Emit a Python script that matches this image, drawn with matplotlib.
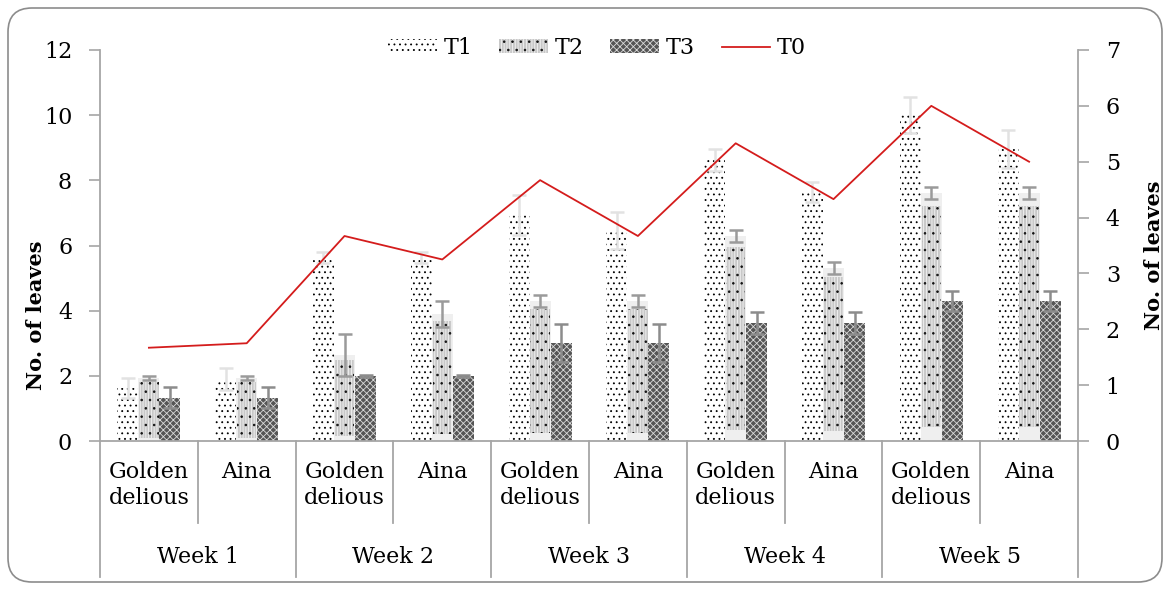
import numpy as np
import matplotlib
matplotlib.use("Agg")
import matplotlib.pyplot as plt
from matplotlib.patches import Patch, FancyBboxPatch
from matplotlib.lines import Line2D
from matplotlib.legend_handler import HandlerTuple
import matplotlib.transforms as mtransforms

plt.rcParams['font.family'] = ['DejaVu Serif']
plt.rcParams['hatch.linewidth'] = 0.6

# ---- data -------------------------------------------------------------
weeks = ['Week 1', 'Week 2', 'Week 3', 'Week 4', 'Week 5']
varieties = ['Golden\ndelious', 'Aina']

t1 = [1.63, 1.90, 5.63, 5.63, 6.93, 6.46, 8.62, 7.65, 10.0, 8.96]
t1_err = [0.31, 0.35, 0.18, 0.18, 0.62, 0.58, 0.33, 0.31, 0.55, 0.58]
t2 = [1.93, 1.93, 2.63, 3.90, 4.30, 4.30, 6.29, 5.31, 7.62, 7.62]
t2_err = [0.05, 0.05, 0.65, 0.40, 0.18, 0.18, 0.18, 0.19, 0.18, 0.18]
t3 = [1.33, 1.33, 2.00, 2.00, 3.00, 3.00, 3.62, 3.62, 4.30, 4.30]
t3_err = [0.33, 0.33, 0.03, 0.03, 0.58, 0.58, 0.33, 0.33, 0.31, 0.31]
t0 = [1.67, 1.75, 3.67, 3.25, 4.67, 3.67, 5.33, 4.33, 6.00, 5.00]

# ---- styles -----------------------------------------------------------
FS = 16
GRID = '#a6a6a6'
W = 0.215
T1_HATCH = '...'
T2_LINES = '||||||'
T2_DOTS = '..'
T3_HATCH = 'xxxxx'
T3_FACE = '#555555'

fig = plt.figure(figsize=(11.7, 5.9), dpi=100)
ax = fig.add_axes([100/1170, 1-441/590, 978/1170, 391/590])
ax2 = ax.twinx()

n = len(t1)
x = np.arange(n)
t1 = np.array(t1); t2 = np.array(t2); t3 = np.array(t3)

# T1: white with black speckle
ax.bar(x - W, t1, W, facecolor='white', edgecolor='black', hatch=T1_HATCH, linewidth=0, zorder=2)

# T2: pale frame with grey striped, dotted insert
ax.bar(x, t2, W, facecolor='#efefef', linewidth=0, zorder=2)
ax.bar(x, t2*0.89, W*0.92, bottom=t2*0.055, facecolor='#c8c8c8', edgecolor='#f4f4f4',
       hatch=T2_LINES, linewidth=0, zorder=2)
ax.bar(x, t2*0.89, W*0.92, bottom=t2*0.055, facecolor='none', edgecolor='#111111',
       hatch=T2_DOTS, linewidth=0, zorder=2)

# T3: dense mottled texture
ax.bar(x + W, t3, W, facecolor=T3_FACE, edgecolor='#dadada', hatch=T3_HATCH, linewidth=0, zorder=2)

ax.errorbar(x - W, t1, yerr=t1_err, fmt='none', ecolor='#e2e2e2', elinewidth=1.8,
            capsize=5, capthick=1.8, zorder=3)
ax.errorbar(x, t2, yerr=t2_err, fmt='none', ecolor='#9a9a9a', elinewidth=1.8,
            capsize=5, capthick=1.8, zorder=3)
ax.errorbar(x + W, t3, yerr=t3_err, fmt='none', ecolor='#8c8c8c', elinewidth=1.8,
            capsize=5, capthick=1.8, zorder=3)

ax2.plot(x, t0, color='#d41c1c', linewidth=1.3, zorder=4)

# ---- axes -------------------------------------------------------------
ax.set_xlim(-0.5, n - 0.5)
ax.set_ylim(0, 12)
ax.set_yticks(np.arange(0, 13, 2))
ax2.set_ylim(0, 7)
ax2.set_yticks(np.arange(0, 8, 1))
ax.set_xticks([])

for a in (ax, ax2):
    a.spines['top'].set_visible(False)
    for s in ('left', 'right', 'bottom'):
        a.spines[s].set_color(GRID)
        a.spines[s].set_linewidth(1.3)
    a.tick_params(axis='y', direction='out', length=8, width=1.2, color=GRID,
                  labelsize=FS, pad=12)
ax.spines['right'].set_visible(False)
ax2.spines['left'].set_visible(False)
ax2.spines['bottom'].set_visible(False)

# two-level category axis underneath
trans = mtransforms.blended_transform_factory(ax.transData, ax.transAxes)
for k in range(n + 1):
    xb = k - 0.5
    y_end = -0.348 if k % 2 == 0 else -0.21
    ax.plot([xb, xb], [0, y_end], color=GRID, lw=1.3, transform=trans, clip_on=False)
for i in range(n):
    ax.text(i, -0.05, varieties[i % 2], transform=trans, ha='center', va='top',
            fontsize=FS, linespacing=1.25)
for j, wk in enumerate(weeks):
    ax.text(2*j + 0.5, -0.297, wk, transform=trans, ha='center', va='center', fontsize=FS)

fig.text(36/1170, 1-315/590, 'No. of leaves', rotation=90, ha='center', va='center',
         fontsize=15, fontweight='bold')
fig.text(1154/1170, 1-255/590, 'No. of leaves', rotation=90, ha='center', va='center',
         fontsize=15, fontweight='bold')

# ---- legend -----------------------------------------------------------
h1 = Patch(facecolor='white', edgecolor='black', hatch=T1_HATCH, linewidth=0)
h2a = Patch(facecolor='#c8c8c8', edgecolor='#f4f4f4', hatch=T2_LINES, linewidth=0)
h2b = Patch(facecolor='none', edgecolor='#111111', hatch=T2_DOTS, linewidth=0)
h3 = Patch(facecolor=T3_FACE, edgecolor='#dadada', hatch=T3_HATCH, linewidth=0)
h0 = Line2D([], [], color='#d41c1c', linewidth=1.3)
fig.legend([h1, (h2a, h2b), h3, h0], ['T1', 'T2', 'T3', 'T0'],
           handler_map={tuple: HandlerTuple(ndivide=1)},
           loc='center', bbox_to_anchor=(597/1170, 1-48/590), ncol=4, frameon=False,
           fontsize=FS, handlelength=2.2, handleheight=0.6, handletextpad=0.3,
           columnspacing=1.2)

# rounded outer frame
frame = FancyBboxPatch((8, 8), 1154, 574, boxstyle='round,pad=0,rounding_size=24',
                       transform=mtransforms.IdentityTransform(), facecolor='none',
                       edgecolor='#8c8c8c', linewidth=1.2)
fig.patches.append(frame)

fig.savefig('out.png', dpi=100)
